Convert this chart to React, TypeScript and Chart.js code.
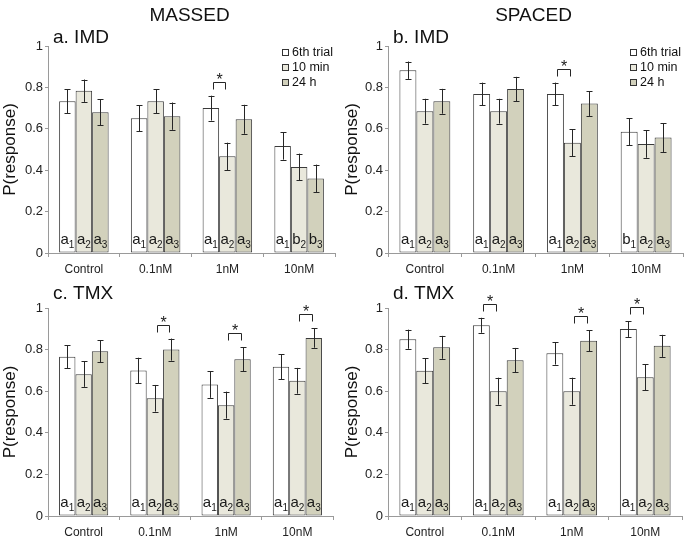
import React, { useEffect, useRef } from 'react';
import { Chart, registerables } from 'chart.js';

Chart.register(...registerables);

const FONT = '"Liberation Sans", Arial, sans-serif';

const categories = ['Control', '0.1nM', '1nM', '10nM'];
const seriesLabels = ['6th trial', '10 min', '24 h'];
const seriesColors = ['#ffffff', '#e9e8dc', '#d2d1bc'];

// a. IMD, MASSED
const imdMassed6th = [0.733, 0.651, 0.70, 0.517];
const imdMassed6thErr = [0.058, 0.062, 0.06, 0.066];
const imdMassed10 = [0.784, 0.733, 0.467, 0.416];
const imdMassed10Err = [0.054, 0.058, 0.066, 0.064];
const imdMassed24 = [0.68, 0.661, 0.646, 0.36];
const imdMassed24Err = [0.063, 0.066, 0.07, 0.067];
const imdMassedLetters = ['aaa', 'aaa', 'aaa', 'abb'];
const imdMassedSig = [[2, 0, 1]];

// b. IMD, SPACED
const imdSpaced6th = [0.883, 0.768, 0.768, 0.586];
const imdSpaced6thErr = [0.042, 0.055, 0.055, 0.065];
const imdSpaced10 = [0.685, 0.685, 0.533, 0.526];
const imdSpaced10Err = [0.06, 0.06, 0.065, 0.066];
const imdSpaced24 = [0.733, 0.792, 0.722, 0.558];
const imdSpaced24Err = [0.06, 0.059, 0.06, 0.07];
const imdSpacedLetters = ['aaa', 'aaa', 'aaa', 'baa'];
const imdSpacedSig = [[2, 0, 1]];

// c. TMX, MASSED
const tmxMassed6th = [0.766, 0.70, 0.632, 0.717];
const tmxMassed6thErr = [0.056, 0.061, 0.064, 0.06];
const tmxMassed10 = [0.682, 0.566, 0.533, 0.65];
const tmxMassed10Err = [0.061, 0.064, 0.065, 0.062];
const tmxMassed24 = [0.792, 0.80, 0.754, 0.856];
const tmxMassed24Err = [0.054, 0.053, 0.058, 0.047];
const tmxMassedLetters = ['aaa', 'aaa', 'aaa', 'aaa'];
const tmxMassedSig = [[1, 1, 2], [2, 1, 2], [3, 1, 2]];

// d. TMX, SPACED
const tmxSpaced6th = [0.85, 0.917, 0.782, 0.899];
const tmxSpaced6thErr = [0.046, 0.036, 0.054, 0.038];
const tmxSpaced10 = [0.698, 0.60, 0.60, 0.667];
const tmxSpaced10Err = [0.06, 0.065, 0.065, 0.062];
const tmxSpaced24 = [0.811, 0.749, 0.843, 0.818];
const tmxSpaced24Err = [0.055, 0.059, 0.05, 0.053];
const tmxSpacedLetters = ['aaa', 'aaa', 'aaa', 'aaa'];
const tmxSpacedSig = [[1, 0, 1], [2, 1, 2], [3, 0, 1]];

const yTicks = [0, 0.2, 0.4, 0.6, 0.8, 1];

type Panel = {
  left: number; top: number; width: number; height: number;
  yAxisWidth: number; padRight: number; padTop: number; xAxisHeight: number;
  title?: string; label: string; labelDy: number; legend: boolean;
  values: number[][]; errors: number[][]; letters: string[]; sig: number[][];
};

const panels: Panel[] = [
  {
    left: 0, top: 0, width: 342, height: 276, yAxisWidth: 48, padRight: 7, padTop: 46, xAxisHeight: 23,
    title: 'MASSED', label: 'a. IMD', labelDy: 3, legend: true,
    values: [imdMassed6th, imdMassed10, imdMassed24],
    errors: [imdMassed6thErr, imdMassed10Err, imdMassed24Err],
    letters: imdMassedLetters, sig: imdMassedSig,
  },
  {
    left: 342, top: 0, width: 343, height: 276, yAxisWidth: 46, padRight: 2, padTop: 46, xAxisHeight: 23,
    title: 'SPACED', label: 'b. IMD', labelDy: 3, legend: true,
    values: [imdSpaced6th, imdSpaced10, imdSpaced24],
    errors: [imdSpaced6thErr, imdSpaced10Err, imdSpaced24Err],
    letters: imdSpacedLetters, sig: imdSpacedSig,
  },
  {
    left: 0, top: 276, width: 342, height: 264, yAxisWidth: 48, padRight: 9, padTop: 32, xAxisHeight: 24,
    label: 'c. TMX', labelDy: 9, legend: false,
    values: [tmxMassed6th, tmxMassed10, tmxMassed24],
    errors: [tmxMassed6thErr, tmxMassed10Err, tmxMassed24Err],
    letters: tmxMassedLetters, sig: tmxMassedSig,
  },
  {
    left: 342, top: 276, width: 343, height: 264, yAxisWidth: 46, padRight: 3, padTop: 32, xAxisHeight: 24,
    label: 'd. TMX', labelDy: 9, legend: false,
    values: [tmxSpaced6th, tmxSpaced10, tmxSpaced24],
    errors: [tmxSpaced6thErr, tmxSpaced10Err, tmxSpaced24Err],
    letters: tmxSpacedLetters, sig: tmxSpacedSig,
  },
];

function makePlugin(cfg: Panel) {
  return {
    id: 'panelDecor',
    afterDatasetsDraw(chart: any) {
      const ctx = chart.ctx;
      const ys = chart.scales.y;
      const area = chart.chartArea;
      ctx.save();
      // error bars
      ctx.strokeStyle = '#262626';
      ctx.lineWidth = 1;
      const tops: number[][] = [];
      cfg.values.forEach((vals, di) => {
        const meta = chart.getDatasetMeta(di);
        tops[di] = [];
        meta.data.forEach((bar: any, i: number) => {
          const x = Math.round(bar.x) + 0.5;
          const yt = ys.getPixelForValue(vals[i] + cfg.errors[di][i]);
          const yb = ys.getPixelForValue(vals[i] - cfg.errors[di][i]);
          tops[di][i] = yt;
          ctx.beginPath();
          ctx.moveTo(x, yt);
          ctx.lineTo(x, yb);
          ctx.moveTo(x - 3, Math.round(yt) + 0.5);
          ctx.lineTo(x + 3, Math.round(yt) + 0.5);
          ctx.moveTo(x - 3, Math.round(yb) + 0.5);
          ctx.lineTo(x + 3, Math.round(yb) + 0.5);
          ctx.stroke();
        });
      });
      // letters
      ctx.fillStyle = '#1a1a1a';
      ctx.textBaseline = 'alphabetic';
      ctx.textAlign = 'left';
      cfg.values.forEach((_, di) => {
        const meta = chart.getDatasetMeta(di);
        meta.data.forEach((bar: any, i: number) => {
          const ch = cfg.letters[i][di];
          const sub = String(di + 1);
          ctx.font = `15px ${FONT}`;
          const w1 = ctx.measureText(ch).width;
          ctx.font = `10px ${FONT}`;
          const w2 = ctx.measureText(sub).width;
          const x0 = bar.x - (w1 + w2) / 2;
          ctx.font = `15px ${FONT}`;
          ctx.fillText(ch, x0, area.bottom - 9);
          ctx.font = `10px ${FONT}`;
          ctx.fillText(sub, x0 + w1, area.bottom - 5);
        });
      });
      // significance brackets
      cfg.sig.forEach(([cat, a, b]) => {
        const ba = chart.getDatasetMeta(a).data[cat];
        const bb = chart.getDatasetMeta(b).data[cat];
        const ly = Math.round(Math.min(tops[a][cat], tops[b][cat]) - 14) + 0.5;
        const xa = Math.round(ba.x + 2) + 0.5;
        const xb = Math.round(bb.x - 2) + 0.5;
        ctx.strokeStyle = '#262626';
        ctx.beginPath();
        ctx.moveTo(xa, ly + 7);
        ctx.lineTo(xa, ly);
        ctx.lineTo(xb, ly);
        ctx.lineTo(xb, ly + 7);
        ctx.stroke();
        ctx.font = `16px ${FONT}`;
        ctx.textAlign = 'center';
        ctx.fillStyle = '#1a1a1a';
        ctx.fillText('*', (xa + xb) / 2, ly + 2);
      });
      ctx.restore();
    },
    afterDraw(chart: any) {
      const ctx = chart.ctx;
      const area = chart.chartArea;
      ctx.save();
      ctx.fillStyle = '#111';
      if (cfg.title) {
        ctx.font = `19px ${FONT}`;
        ctx.textAlign = 'center';
        ctx.textBaseline = 'alphabetic';
        ctx.fillText(cfg.title, (area.left + area.right) / 2 - 2, 21);
      }
      ctx.font = `19px ${FONT}`;
      ctx.textAlign = 'left';
      ctx.textBaseline = 'alphabetic';
      ctx.fillText(cfg.label, area.left + 5, area.top - cfg.labelDy);
      if (cfg.legend) {
        const bx = area.right - 53;
        seriesLabels.forEach((lab, i) => {
          const cy = area.top + 7 + i * 15;
          ctx.fillStyle = seriesColors[i];
          ctx.fillRect(bx + 0.5, cy - 3.5, 6, 6);
          ctx.strokeStyle = '#333';
          ctx.lineWidth = 1;
          ctx.strokeRect(bx + 0.5, cy - 3.5, 6, 6);
          ctx.fillStyle = '#111';
          ctx.font = `12.5px ${FONT}`;
          ctx.textBaseline = 'middle';
          ctx.fillText(lab, bx + 10, cy);
        });
      }
      ctx.restore();
    },
  };
}

function PanelChart({ cfg }: { cfg: Panel }) {
  const ref = useRef<HTMLCanvasElement>(null);
  useEffect(() => {
    if (!ref.current) return;
    const chart = new Chart(ref.current, {
      type: 'bar',
      data: {
        labels: categories,
        datasets: cfg.values.map((vals, i) => ({
          label: seriesLabels[i],
          data: vals,
          backgroundColor: seriesColors[i],
          borderColor: '#3a3a3a',
          borderWidth: 1,
          borderSkipped: false,
          categoryPercentage: 0.69,
          barPercentage: 1,
        })),
      },
      options: {
        responsive: false,
        animation: false,
        devicePixelRatio: 1,
        layout: { padding: { top: cfg.padTop, right: cfg.padRight, left: 0, bottom: 0 } },
        plugins: { legend: { display: false }, tooltip: { enabled: false }, title: { display: false } },
        scales: {
          x: {
            type: 'category',
            offset: true,
            grid: { offset: true, drawOnChartArea: false, drawTicks: true, tickLength: 4, color: '#9a9a9a' },
            border: { color: '#9a9a9a' },
            ticks: { font: { size: 12, family: FONT }, color: '#222', padding: 5, maxRotation: 0 },
            afterFit: (s: any) => { s.height = cfg.xAxisHeight; },
          },
          y: {
            min: 0,
            max: 1,
            afterBuildTicks: (s: any) => { s.ticks = yTicks.map((v) => ({ value: v })); },
            ticks: {
              font: { size: 13, family: FONT },
              color: '#222',
              padding: 2,
              callback: (v: any) => {
                const n = Number(v);
                if (Math.abs(n) < 1e-9) return '0';
                if (Math.abs(n - 1) < 1e-9) return '1';
                return n.toFixed(1);
              },
            },
            grid: { drawOnChartArea: false, drawTicks: true, tickLength: 3, color: '#9a9a9a' },
            border: { color: '#9a9a9a' },
            title: { display: true, text: 'P(response)', font: { size: 17, family: FONT }, color: '#111', padding: 0 },
            afterFit: (s: any) => { s.width = cfg.yAxisWidth; },
          },
        },
      },
      plugins: [makePlugin(cfg)],
    } as any);
    return () => chart.destroy();
  }, [cfg]);
  return (
    <canvas
      ref={ref}
      width={cfg.width}
      height={cfg.height}
      style={{ position: 'absolute', left: cfg.left, top: cfg.top, width: cfg.width, height: cfg.height }}
    />
  );
}

export default function App() {
  return (
    <div style={{ position: 'absolute', left: 0, top: 0, width: 685, height: 540, background: '#fff', overflow: 'hidden' }}>
      {panels.map((p, i) => (
        <PanelChart key={i} cfg={p} />
      ))}
    </div>
  );
}
